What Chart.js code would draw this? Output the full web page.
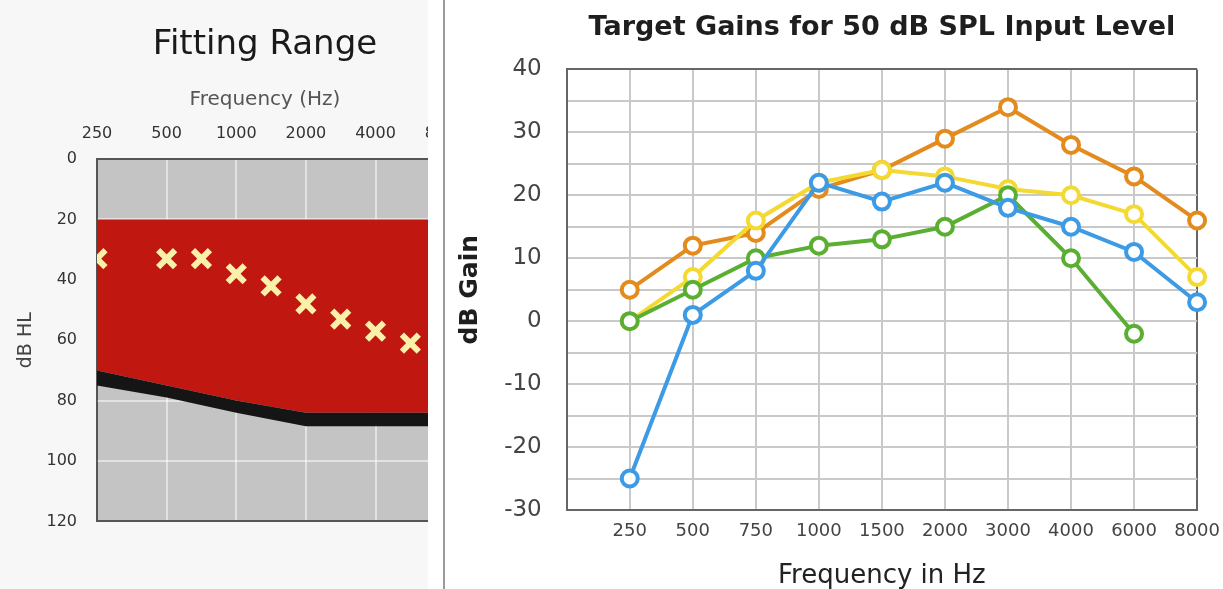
<!DOCTYPE html>
<html lang="en">
<head>
<meta charset="UTF-8">
<title>Fitting Range / Target Gains</title>
<script src="https://cdn.jsdelivr.net/npm/chart.js"></script>
<style>
  body { margin: 0; background: #fff; width: 1223px; height: 589px; overflow: hidden; position: relative; }
  .left { position: absolute; left: 0; top: 0; width: 428px; height: 589px; overflow: hidden; background: #f7f7f7; }
  .left .box { position: absolute; left: 0; top: 0; width: 530px; height: 551px; }
  .sep { position: absolute; left: 443px; top: 0; width: 2px; height: 589px; background: #9a9a9a; }
  .right { position: absolute; left: 450px; top: 0; width: 781px; height: 589px; }
</style>
</head>
<body>
<div class="left"><div class="box"><canvas id="fitting"></canvas></div></div>
<div class="sep"></div>
<div class="right"><canvas id="gains"></canvas></div>

<script>
// ---- left: fitting range audiogram ----
const octaveFreqs = [250, 500, 1000, 2000, 4000, 8000];
const testFreqs = [250, 500, 750, 1000, 1500, 2000, 3000, 4000, 6000];
const thresholdsDb = [33, 33, 33, 38, 42, 48, 53, 57, 61];
const bandFreqs = [250, 500, 1000, 2000, 4000, 8000];
const rangeTopDb = [20, 20, 20, 20, 20, 20];
const rangeBottomDb = [70, 75, 80, 84, 84, 84];
const limitBottomDb = [75, 79, 84, 88.5, 88.5, 88.5];

// ---- right: target gains ----
const freqLabels = ['250', '500', '750', '1000', '1500', '2000', '3000', '4000', '6000', '8000'];
const orangeGain = [5, 12, 14, 21, 24, 29, 34, 28, 23, 16];
const yellowGain = [0, 7, 16, 22, 24, 23, 21, 20, 17, 7];
const greenGain = [0, 5, 10, 12, 13, 15, 20, 10, -2, null];
const blueGain = [-25, 1, 8, 22, 19, 22, 18, 15, 11, 3];

Chart.defaults.font.family = '"DejaVu Sans", sans-serif';

// audiogram spacing: octaves evenly spaced, inter-octave freqs halfway
function octavePos(f) {
    const i = octaveFreqs.indexOf(f);
    return i >= 0 ? i : octaveFreqs.indexOf(f / 1.5) + 0.5;
}
const pts = (freqs, vals) => freqs.map((f, i) => ({ x: octavePos(f), y: vals[i] }));

const areaBg = {
    id: 'areaBg',
    beforeDraw(chart) {
        const a = chart.chartArea, ctx = chart.ctx;
        ctx.save();
        ctx.fillStyle = '#c4c4c4';
        ctx.fillRect(a.left, a.top, a.width, a.height);
        ctx.restore();
    }
};

const whiteGrid = 'rgba(255,255,255,0.5)';

new Chart(document.getElementById('fitting'), {
    type: 'line',
    data: {
        datasets: [
            {
                data: pts(testFreqs, thresholdsDb),
                showLine: false,
                pointStyle: 'crossRot',
                pointRadius: 12,
                pointBorderWidth: 6,
                pointBorderColor: '#f9f1aa'
            },
            {
                data: pts(bandFreqs, limitBottomDb),
                borderWidth: 0, pointRadius: 0,
                fill: { target: 2 }, backgroundColor: '#151515'
            },
            {
                data: pts(bandFreqs, rangeBottomDb),
                borderWidth: 0, pointRadius: 0,
                fill: { target: 3 }, backgroundColor: '#c01810'
            },
            {
                data: pts(bandFreqs, rangeTopDb),
                borderWidth: 0, pointRadius: 0, fill: false
            }
        ]
    },
    options: {
        responsive: true,
        maintainAspectRatio: false,
        animation: false,
        events: [],
        plugins: {
            legend: { display: false },
            tooltip: { enabled: false },
            title: {
                display: true,
                text: 'Fitting Range',
                color: '#1a1a1a',
                font: { size: 34, weight: 'normal' },
                padding: { top: 24.6, bottom: 0 }
            },
            subtitle: {
                display: true,
                text: 'Frequency (Hz)',
                color: '#555',
                font: { size: 20, weight: 'normal' },
                padding: { top: 22.6, bottom: 0 }
            }
        },
        scales: {
            x: {
                type: 'linear',
                position: 'top',
                min: 0,
                max: 5.96,
                z: 1,
                afterFit: s => { s.height = 47; },
                grid: { color: c => c.tick.value === 0 ? '#555' : whiteGrid, lineWidth: 2, drawTicks: false },
                border: { color: '#555', width: 1.5 },
                ticks: {
                    stepSize: 1,
                    autoSkip: false,
                    maxRotation: 0,
                    padding: 16,
                    color: '#333',
                    font: { size: 16 },
                    callback: v => octaveFreqs[v] ?? ''
                }
            },
            y: {
                reverse: true,
                min: 0,
                max: 120,
                z: 1,
                afterFit: s => { s.width = 97; },
                grid: { color: c => (c.tick.value === 0 || c.tick.value === 120) ? '#555' : whiteGrid, lineWidth: 2, drawTicks: false },
                border: { color: '#555', width: 1.5 },
                ticks: { stepSize: 20, padding: 20, color: '#333', font: { size: 16 } },
                title: {
                    display: true,
                    text: 'dB HL',
                    color: '#444',
                    font: { size: 19 },
                    padding: { top: 15, bottom: 0 }
                }
            }
        }
    },
    plugins: [areaBg]
});

function series(vals, color) {
    return {
        data: vals,
        borderColor: color,
        borderWidth: 4,
        pointRadius: 8,
        pointBorderWidth: 4,
        pointBorderColor: color,
        pointBackgroundColor: '#fff',
        tension: 0,
        clip: false
    };
}

new Chart(document.getElementById('gains'), {
    type: 'line',
    data: {
        labels: [''].concat(freqLabels),
        // first dataset is drawn on top
        datasets: [
            series([null].concat(blueGain), '#3d9be6'),
            series([null].concat(greenGain), '#5aaf32'),
            series([null].concat(yellowGain), '#f4d932'),
            series([null].concat(orangeGain), '#e38b1c')
        ]
    },
    options: {
        responsive: true,
        maintainAspectRatio: false,
        animation: false,
        events: [],
        plugins: {
            legend: { display: false },
            tooltip: { enabled: false },
            title: {
                display: true,
                fullSize: false,
                text: 'Target Gains for 50 dB SPL Input Level',
                color: '#1e1e1e',
                font: { size: 27, weight: 'bold' },
                padding: { top: 12, bottom: 25 }
            }
        },
        scales: {
            x: {
                offset: false,
                afterFit: s => { s.height = 79; },
                grid: { color: c => (c.index === 0 || c.index === 10) ? '#666' : '#c9c9c9', lineWidth: 2, drawTicks: false },
                border: { color: '#666', width: 2 },
                ticks: { autoSkip: false, maxRotation: 0, padding: 11, color: '#444', font: { size: 18 } },
                title: {
                    display: true,
                    text: 'Frequency in Hz',
                    color: '#222',
                    font: { size: 26, lineHeight: 1 },
                    padding: { top: 0, bottom: 0 }
                }
            },
            y: {
                min: -30,
                max: 40,
                afterFit: s => { s.width = 116.7; },
                grid: { color: c => c.tick.value === 40 ? '#666' : '#c9c9c9', lineWidth: 2, drawTicks: false },
                border: { color: '#666', width: 2 },
                ticks: {
                    stepSize: 5,
                    autoSkip: false,
                    padding: 25,
                    color: '#444',
                    font: { size: 23 },
                    callback: v => v % 10 === 0 ? v : ''
                },
                title: {
                    display: true,
                    text: 'dB Gain',
                    color: '#1e1e1e',
                    font: { size: 25, weight: 'bold' },
                    padding: { top: 5, bottom: 0 }
                }
            }
        }
    }
});
</script>
</body>
</html>
